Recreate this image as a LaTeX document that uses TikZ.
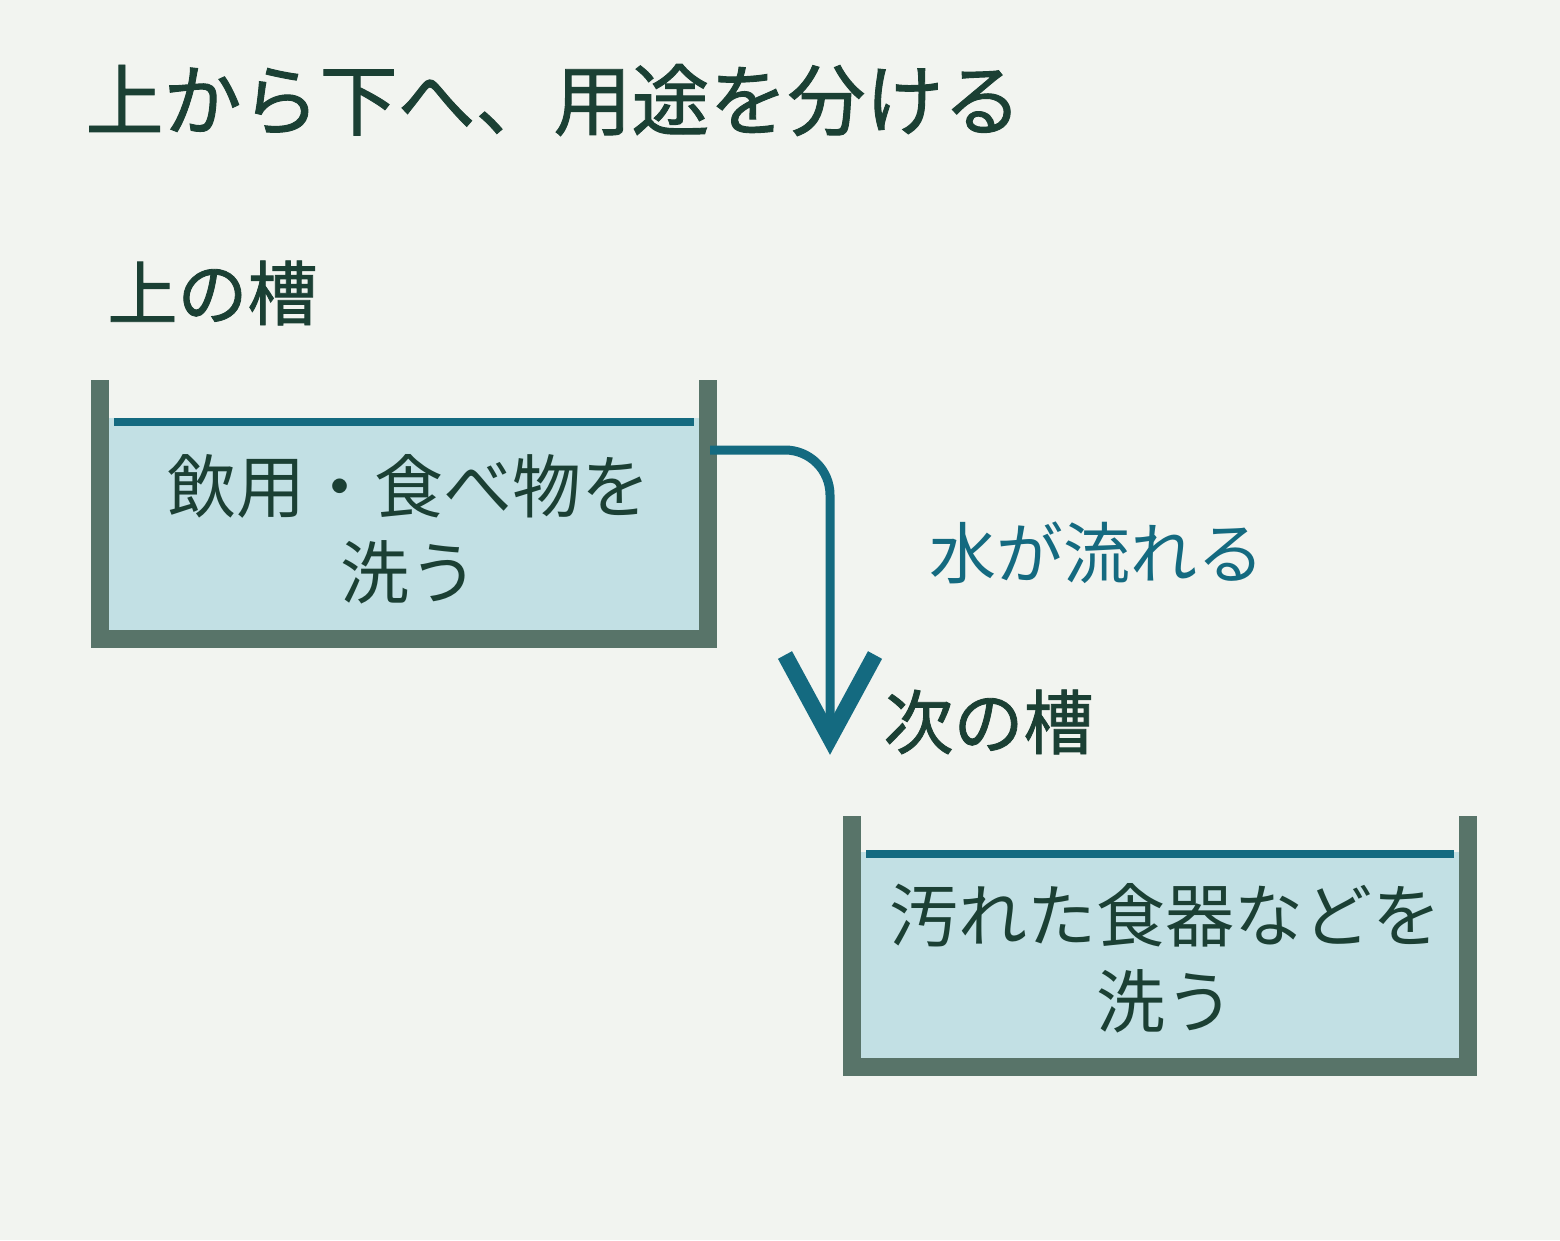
\documentclass[tikz,border=0pt]{standalone}
\usepackage{fontspec}
\setmainfont{Noto Sans CJK JP}
\newfontfamily\medfont[FakeBold=1.2]{Noto Sans CJK JP}
\begin{document}
\begin{tikzpicture}[x=1pt,y=-1pt,
  wall/.style={fill=wallc,draw=none},
  water/.style={fill=waterc,draw=none},
  level/.style={draw=bluec,line width=8pt},
  head/.style={text=darkc,font=\fontsize{70}{78}\selectfont\medfont,anchor=west},
  tanktxt/.style={text=darkc,font=\fontsize{69}{86}\selectfont,align=center}]
\definecolor{bgc}{HTML}{F2F4F0}
\definecolor{darkc}{HTML}{1B4034}
\definecolor{wallc}{HTML}{587469}
\definecolor{waterc}{HTML}{C2E0E4}
\definecolor{bluec}{HTML}{146A80}
\fill[bgc] (0,0) rectangle (1560,1240);
\useasboundingbox (0,0) rectangle (1560,1240);
\node[anchor=west,text=darkc,font=\fontsize{78}{86}\selectfont\medfont] (title) at (82,100) {上から下へ、用途を分ける};
\node[head] (h1) at (104,293) {上の槽};
\node[head] (h2) at (880,722) {次の槽};
% tank 1
\fill[water] (109,418) rectangle (699,630);
\fill[wall] (91,380) rectangle (109,648);
\fill[wall] (699,380) rectangle (717,648);
\fill[wall] (91,630) rectangle (717,648);
\coordinate (l1a) at (114,422); \coordinate (l1b) at (694,422);
\draw[level] (l1a) -- (l1b);
\node[tanktxt] (t1) at (409,529) {飲用・食べ物を\\洗う};
% tank 2
\fill[water] (861,852) rectangle (1459,1058);
\fill[wall] (843,816) rectangle (861,1076);
\fill[wall] (1459,816) rectangle (1477,1076);
\fill[wall] (843,1058) rectangle (1477,1076);
\coordinate (l2a) at (866,854); \coordinate (l2b) at (1454,854);
\draw[level] (l2a) -- (l2b);
\node[tanktxt] (t2) at (1165,958) {汚れた食器などを\\洗う};
% flow
\coordinate (s) at (710,450);
\coordinate (e) at (830,740);
\draw[bluec,line width=9pt] (s) -- (785,450) arc (-90:0:45) -- (e);
\coordinate (a1) at (785,655);
\coordinate (a2) at (875,655);
\draw[bluec,line width=16pt,line join=miter] (a1) -- (830,738) -- (a2);
\node[text=bluec,font=\fontsize{67}{74}\selectfont] (flow) at (1097,553) {水が流れる};
\end{tikzpicture}
\end{document}
